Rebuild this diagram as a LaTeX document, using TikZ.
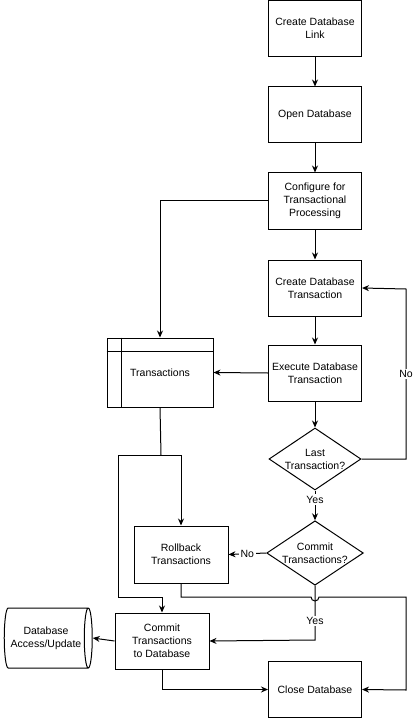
\documentclass[tikz,border=0pt]{standalone}
\usepackage{fontspec}
\setmainfont{Liberation Sans}
\usepackage{tikz}
\usetikzlibrary{arrows.meta,shapes.geometric}
\tikzset{
    flow-box/.style = {draw, line width=1pt, rectangle, minimum width=93, minimum height=56, inner sep=0pt, align=center, font=\fontsize{10.5}{13}\selectfont},
    flow-decision/.style = {draw, line width=1pt, diamond, aspect=1.5, inner sep=0pt, minimum width=92, minimum height=62, align=center, font=\fontsize{10.5}{13}\selectfont},
    flow-store/.style = {draw, line width=1pt, cylinder, aspect=0.35, minimum height=88, minimum width=60, inner sep=0pt, align=center, font=\fontsize{10.5}{13}\selectfont},
    flow-line/.style = {line width=1pt, -{Stealth[length=7pt,width=6pt]}},
    flow-label/.style = {fill=white, inner sep=1.5pt, font=\fontsize{10.5}{13}\selectfont},
}

\begin{document}
\begin{tikzpicture}[x=1pt, y=-1pt]
\useasboundingbox (0,0) rectangle (414,719);

% main column
\node[flow-box] (link) at (315,28.5) {Create Database\\Link};
\node[flow-box] (open) at (315,115) {Open Database};
\node[flow-box] (config) at (315,201) {Configure for\\Transactional\\Processing};
\node[flow-box] (create) at (315,288) {Create Database\\Transaction};
\node[flow-box] (exec) at (315,373) {Execute Database\\Transaction};
\node[flow-decision] (last) at (315,459) {Last\\Transaction?};
\node[flow-decision] (commitq) at (315,553) {Commit\\Transactions?};
\node[flow-box] (close) at (315,689.5) {Close Database};

% left column
\node[flow-box, minimum width=106, minimum height=69] (trans) at (160,372.5) {Transactions};
\draw[line width=1pt] ([xshift=15]trans.north west) -- ([xshift=15]trans.south west);
\draw[line width=1pt] ([yshift=-14]trans.north west) -- ([yshift=-14]trans.north east);
\node[flow-box, minimum width=94, minimum height=57] (rollback) at (181,554.5) {Rollback\\Transactions};
\node[flow-box, minimum width=94, minimum height=56] (commitdb) at (162,641) {Commit\\Transactions\\to Database};
\node[flow-store] (store) at (46,638) {Database\\Access/Update};

\coordinate (split) at (161,455);
\coordinate (hop) at (315,597);

% connectors
\draw[flow-line] (link) -- (open);
\draw[flow-line] (open) -- (config);
\draw[flow-line] (config) -- (create);
\draw[flow-line] (create) -- (exec);
\draw[flow-line] (exec) -- (last);
\draw[flow-line] (config.west) -| (trans.north);
\draw[flow-line] (exec.west) -- (trans.east);
\draw[flow-line] (last.east) -- (406,459) -- node[flow-label] {No} (406,289) -- (create.east);
\draw[flow-line] (last.south) -- node[flow-label, pos=0.3] {Yes} (commitq.north);
\draw[flow-line] (commitq.west) -- node[flow-label] {No} (rollback.east);
\draw[line width=1pt] (trans.south) -- (split);
\draw[flow-line] (118,455) -- (rollback.north |- split) -- (rollback.north);
\draw[flow-line] (118,455) -- (118,597) -- (commitdb.north |- hop) -- (commitdb.north);
\draw[flow-line] (rollback.south) -- (rollback.south |- hop) -- ([xshift=-4]hop) arc[start angle=180, end angle=0, radius=4] -- (406,597) -- (406,690) -- (close.east);
\draw[flow-line] (commitq.south) -- node[flow-label, pos=0.65] {Yes} (315,640) -- (commitdb.east);
\draw[flow-line] (commitdb.west) -- (store.east);
\draw[flow-line] (commitdb.south) -- (commitdb.south |- close.west) -- (close.west);
\end{tikzpicture}
\end{document}
